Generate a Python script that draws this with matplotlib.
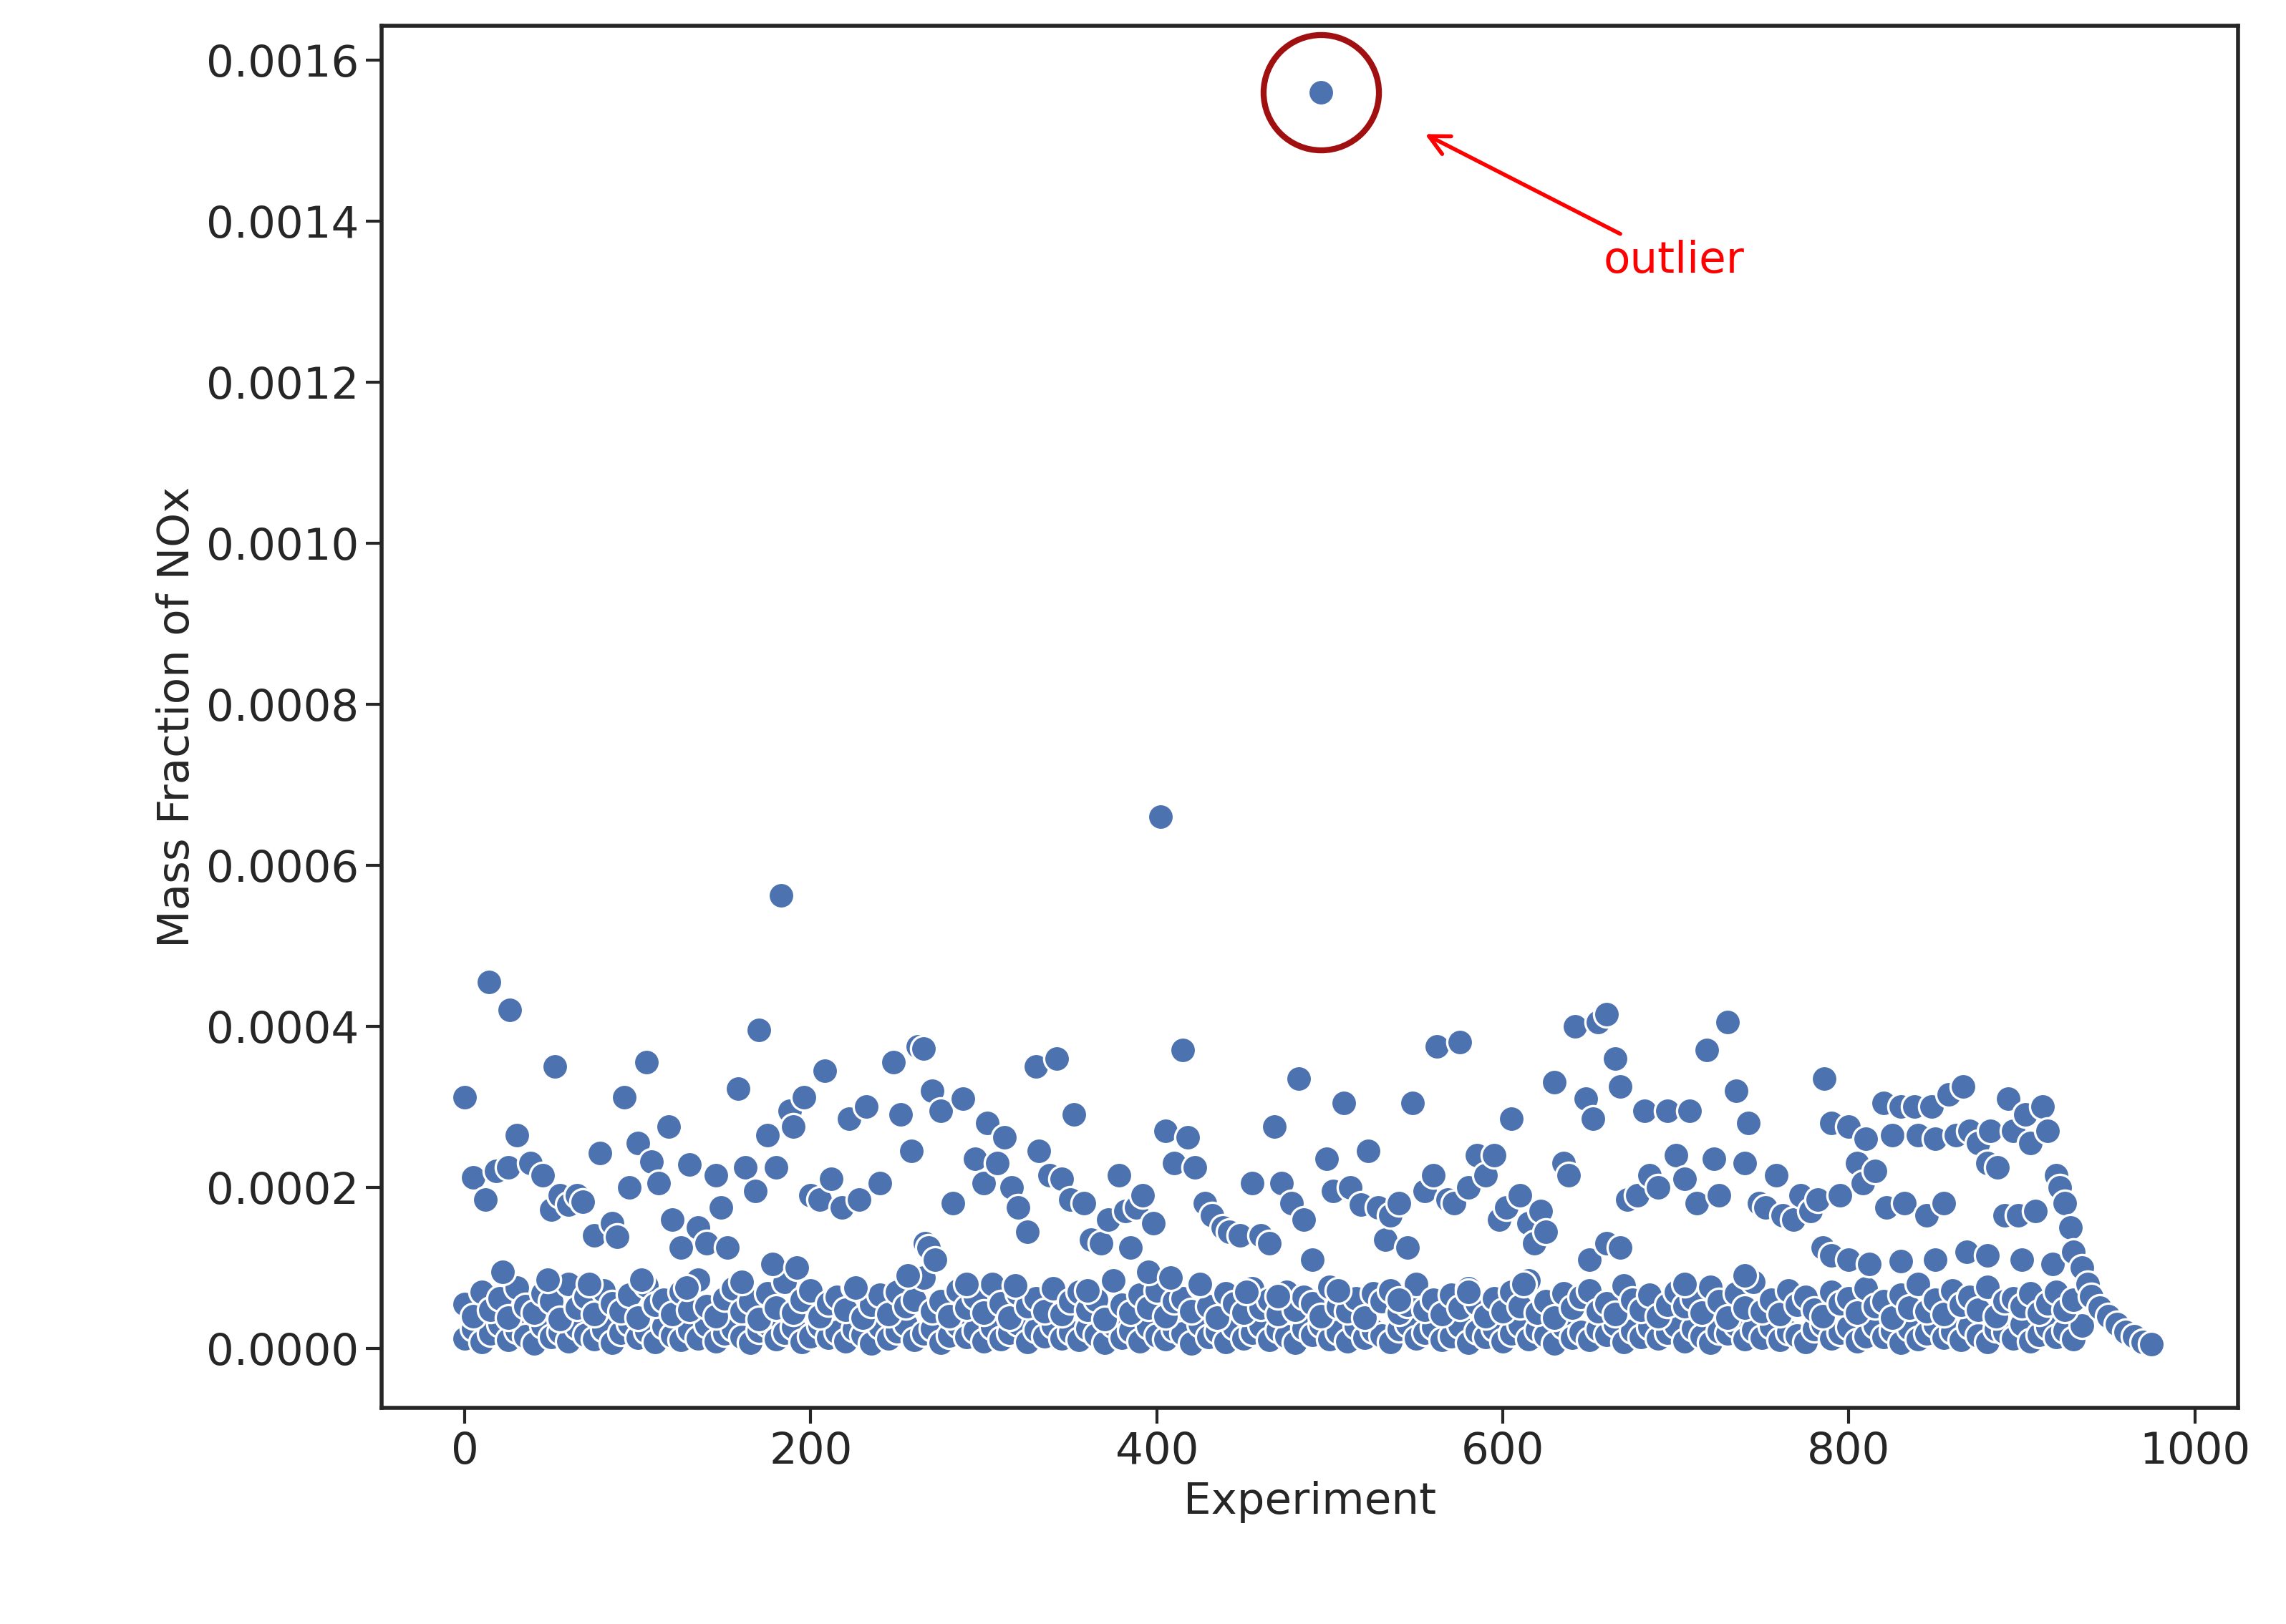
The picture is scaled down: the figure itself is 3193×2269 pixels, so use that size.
import numpy as np
import matplotlib
matplotlib.use("Agg")
import matplotlib.pyplot as plt
import seaborn as sns

sns.set_theme(style="ticks")
plt.rcParams['font.family'] = ['DejaVu Sans']

# values in units of 1e-6
high_x = [0,5,12,14,18,25,26,30,38,45,50,52,55,60,65,68,75,78,85,88,92,95,100,105,108,112,118,120,125,130,135,140,145,148,152,158,162,168,170,175,180,183,188,190,196,200,205,208,212,218,222,228,232,240,248,252,258,262,265,268,270,272,275,282,288,295,300,302,308,312,316,320,325,330,332,338,342,345,350,352,358,362,368,372,378,382,385,388,392,398,402,405,410,415,418,422,428,432,438,442,448,455,460,465,468,472,478,482,485,490,495,498,502,508,512,518,522,528,532,535,540,545,548,555,560,562,568,572,575,580,585,590,595,598,602,605,610,615,618,622,625,630,635,638,642,648,652,655,660,665,668,672,678,682,685,690,695,700,705,708,712,718,722,725,730,735,740,742,748,752,758,762,768,772,778,782,786,790,795,800,805,808,810,815,820,822,825,830,832,838,840,845,848,850,855,858,862,866,870,875,880,882,886,890,892,895,898,902,905,908,912,915,920,922,925,928,930,935,938,940,945,950,955,960,965,970,975]
high_y = [312,212,185,455,220,225,420,265,230,215,172,350,190,178,190,182,140,242,155,138,312,200,255,355,232,205,275,160,125,228,150,130,215,175,125,322,225,195,395,265,225,562,295,275,312,190,185,345,210,175,285,185,300,205,355,290,245,375,372,125,320,110,295,180,310,235,205,280,230,262,200,175,145,350,245,215,360,210,185,290,180,135,130,160,215,170,125,175,190,155,660,270,230,370,262,225,180,165,150,145,140,205,140,130,275,205,180,335,160,110,1560,235,195,305,200,178,245,175,135,165,180,125,305,195,215,375,185,180,380,200,240,215,240,160,175,285,190,155,130,170,145,330,230,215,400,310,285,405,415,360,325,185,190,295,215,200,295,240,210,295,180,370,235,190,405,320,230,280,180,175,215,165,160,190,170,185,335,280,190,275,230,205,260,220,305,175,265,300,180,300,265,165,300,260,180,315,265,325,270,255,230,270,225,165,310,270,165,290,255,170,300,270,215,200,180,150,120,100,80,65,50,40,30,20,15,8,5]

mid_x = [22,48,72,102,128,160,178,192,226,256,266,290,318,360,395,408,425,452,470,505,540,580,612,650,660,668,705,740,785,790,800,812,830,850,868,880,900,918]
mid_y = [95,85,80,85,75,82,105,100,75,90,130,80,78,72,95,88,80,70,65,72,60,70,80,110,130,125,80,90,125,115,110,105,108,110,120,115,110,105]

low_x = list(range(0, 936, 5))
low_a = [12,25,8,18,30,10,22,15,6,28,14,20,9,26,17,11,24,7,19,31,13,21,8,27,16,10,23,12,29,9,18,25,14,7,22,30,11,19,26,8,15,28,13,20,9,24,17,6,27,12,21,30,10,18,25,7,16,29,14,22,9,26,11,19,31,8,23,15,28,12,20,10,25,17,7,29,13,22,9,27,16,11,24,18,6,30,14,21,8,26,12,19,28,10,23,15,7,25,17,29,11,20,9,27,13,22,16,8,24,30,12,19,26,10,15,28,7,21,14,25,9,18,29,11,23,16,6,27,13,20,10,24,17,30,8,22,14,26,12,19,28,9,25,15,7,21,18,29,11,23,13,27,10,20,16,8,24,30,12,19,26,9,15,28,14,22,7,25,11,18,29,13,21,10,27,16,8,24,20,12,30,9,17,26,14,22,11,28,15,19]
low_b = [55,40,70,48,62,38,75,52,44,68,58,36,80,50,64,42,72,56,46,66,38,78,54,60,42,70,48,85,52,40,62,74,46,58,36,68,50,82,44,60,72,40,56,64,48,76,38,54,66,42,70,52,60,88,46,58,40,72,50,64,44,80,56,38,68,52,62,46,74,42,58,70,48,60,36,84,54,44,66,50,72,40,58,62,46,78,52,38,68,56,44,74,50,60,42,70,48,64,56,40,76,52,46,62,38,68,58,72,44,54,80,48,60,42,66,50,74,56,40,62,46,70,52,84,44,58,38,68,50,64,72,46,56,42,78,60,48,66,40,54,70,52,62,44,76,58,38,68,50,82,46,60,42,72,54,64,48,40,70,56,62,44,74,52,58,38,66,50,80,46,60,42,72,54,64,48,76,40,58,62,52,68,44,56,70,48,60]


def pairs(xl, yl):
    n = min(len(xl), len(yl))
    return list(xl[:n]), list(yl[:n])


parts = [pairs(low_x, low_a), pairs(low_x, low_b), pairs(mid_x, mid_y), pairs(high_x, high_y)]
xs = np.array(sum([p[0] for p in parts], []), dtype=float)
ys = np.array(sum([p[1] for p in parts], []), dtype=float) * 1e-6

fig = plt.figure(figsize=(15.965, 11.345), dpi=200)
ax = fig.add_axes([0.167, 0.133, 0.812, 0.851])

ax.scatter(xs, ys, s=170, color="#4C72B0", edgecolor="white", linewidth=1.2, zorder=3)

ax.set_xlim(-48, 1025)
ax.set_ylim(-0.0000742, 0.001642)
ax.set_xticks([0, 200, 400, 600, 800, 1000])
ax.set_yticks(np.arange(0, 0.00161, 0.0002))
ax.yaxis.set_major_formatter(matplotlib.ticker.FormatStrFormatter('%.4f'))
ax.tick_params(labelsize=22, length=8, width=1.5)
for sp in ax.spines.values():
    sp.set_linewidth(2)
ax.set_xlabel("Experiment", fontsize=22)
ax.set_ylabel("Mass Fraction of NOx", fontsize=22)

ax.plot([495], [0.00156], marker='o', ms=58, mfc='none', mec='#A01010', mew=3, zorder=4)
ax.annotate("outlier", xy=(553, 0.00151), xytext=(658, 0.00135), color='red', fontsize=22,
            arrowprops=dict(arrowstyle='->', color='red', lw=2, mutation_scale=25), va='center',
            ha='left')
fig.savefig("out.png", dpi=200)
